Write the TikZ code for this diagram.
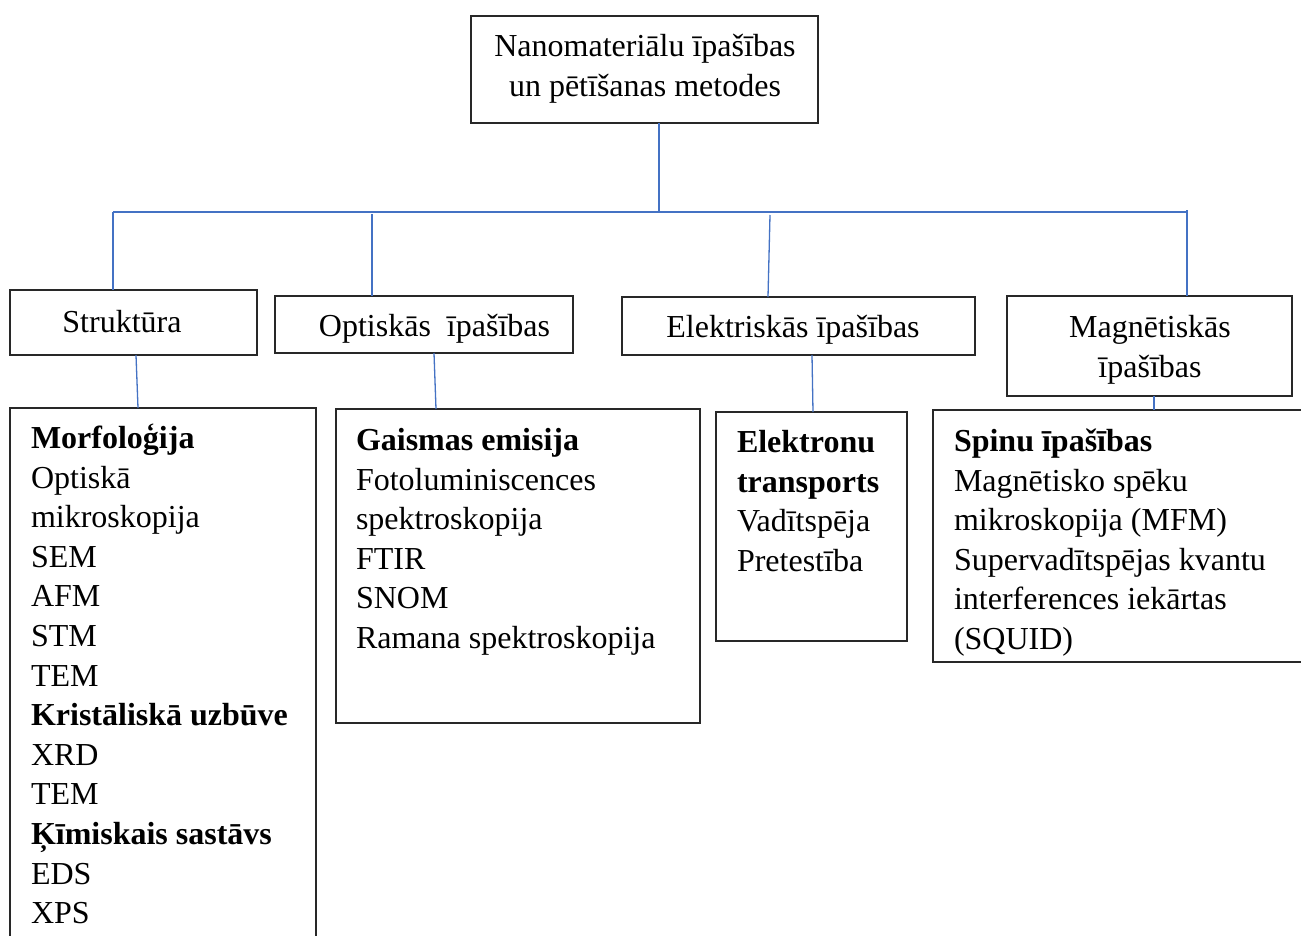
\documentclass[tikz,border=0pt]{standalone}
\usepackage{fontspec}
\setmainfont{Liberation Serif}
\definecolor{conn}{RGB}{68,114,196}
\definecolor{frame}{RGB}{40,40,40}
\newcommand\ctrlines[2]{\vtop{\baselineskip=39.6pt\lineskiplimit=-100pt\halign{\hfil##\hfil\cr #1\cr #2\cr}}}
\newcommand\leftlines[1]{\vtop{\baselineskip=39.6pt\lineskiplimit=-100pt\halign{##\hfil\cr #1}}}
\tikzset{
  box/.style={draw=frame, line width=1.3pt, inner sep=0pt, outer sep=0pt},
  txt/.style={inner sep=0pt, outer sep=0pt, font=\fontsize{32}{39.6}\selectfont},
  link/.style={draw=conn, line width=1.3pt}
}
\begin{document}
\begin{tikzpicture}[x=1pt,y=-1pt]
\useasboundingbox (0,0) rectangle (1301,935);
\fill[white] (0,0) rectangle (1301,935);
% boxes
\node[box, minimum width=347pt, minimum height=107pt] (top) at (644.5,69.5) {};
\node[box, minimum width=247pt, minimum height=65pt] (s1) at (133.5,322.5) {};
\node[box, minimum width=298pt, minimum height=57pt] (s2) at (424,324.5) {};
\node[box, minimum width=353pt, minimum height=58pt] (s3) at (798.5,326) {};
\node[box, minimum width=285pt, minimum height=100pt] (s4) at (1149.5,346) {};
\node[box, minimum width=306pt, minimum height=560pt] (d1) at (163,688) {};
\node[box, minimum width=364pt, minimum height=314pt] (d2) at (518,566) {};
\node[box, minimum width=191pt, minimum height=229pt] (d3) at (811.5,526.5) {};
\node[box, minimum width=400pt, minimum height=252pt] (d4) at (1133,536) {};
% texts
\node[txt, anchor=base] (ttop) at (645,56.5) {\ctrlines{Nanomateriālu īpašības}{un pētīšanas metodes}};
\node[txt, anchor=base] (ts1) at (122,332) {Struktūra};
\node[txt, anchor=base] (ts2) at (434.5,336.5) {Optiskās\ \ īpašības};
\node[txt, anchor=base] (ts3) at (793,337.5) {Elektriskās īpašības};
\node[txt, anchor=base] (ts4) at (1150,337.5) {\ctrlines{Magnētiskās}{īpašības}};
\node[txt, anchor=base west] (td1) at (31,448.5) {\leftlines{%
\textbf{Morfoloģija}\cr Optiskā\cr mikroskopija\cr SEM\cr AFM\cr STM\cr TEM\cr
\textbf{Kristāliskā uzbūve}\cr XRD\cr TEM\cr \textbf{Ķīmiskais sastāvs}\cr EDS\cr XPS\cr}};
\node[txt, anchor=base west] (td2) at (356,450.5) {\leftlines{%
\textbf{Gaismas emisija}\cr Fotoluminiscences\cr spektroskopija\cr FTIR\cr SNOM\cr Ramana spektroskopija\cr}};
\node[txt, anchor=base west] (td3) at (737,452.5) {\leftlines{%
\textbf{Elektronu}\cr \textbf{transports}\cr Vadītspēja\cr Pretestība\cr}};
\node[txt, anchor=base west] (td4) at (954,451.5) {\leftlines{%
\textbf{Spinu īpašības}\cr Magnētisko spēku\cr mikroskopija (MFM)\cr Supervadītspējas kvantu\cr interferences iekārtas\cr (SQUID)\cr}};
% connectors
\coordinate (busL) at (113,212);
\coordinate (busR) at (1188,212);
\coordinate (j2) at (372,214);
\coordinate (j3) at (770,215);
\coordinate (j4) at (1187,210);
\draw[link] (busL) -- (busR);
\draw[link] ([xshift=14.5pt]top.south) -- ([xshift=14.5pt]top.south |- busL);
\draw[link] (busL) -- (busL |- s1.north);
\draw[link] (j2) -- (j2 |- s2.north);
\draw[link] (j3) -- ([xshift=-2pt]j3 |- s3.north);
\draw[link] (j4) -- (j4 |- s4.north);
\draw[link] ([xshift=2.5pt]s1.south) -- ([xshift=-25pt]d1.north);
\draw[link] ([xshift=10pt]s2.south) -- ([xshift=-82pt]d2.north);
\draw[link] ([xshift=13.5pt]s3.south) -- ([xshift=1.5pt]d3.north);
\draw[link] ([xshift=4.5pt]s4.south) -- ([xshift=21pt]d4.north);
\end{tikzpicture}
\end{document}
